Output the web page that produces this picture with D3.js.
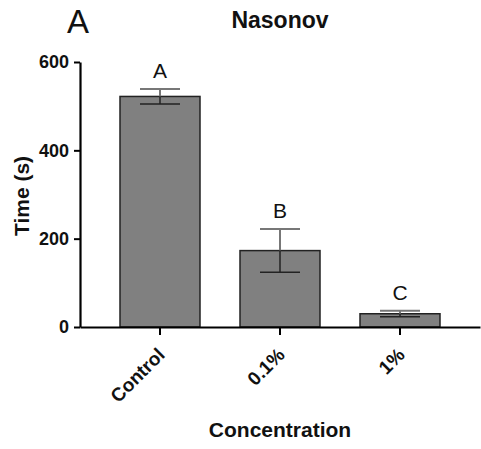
<!DOCTYPE html>
<html>
<head>
<meta charset="utf-8">
<script src="https://cdn.jsdelivr.net/npm/d3@7"></script>
<style>
  html, body { margin: 0; padding: 0; background: #fff; }
  svg { display: block; }
  text { font-family: Arial, "Liberation Sans", sans-serif; }
</style>
</head>
<body>
<svg id="chart" width="481" height="449"></svg>
<script>
const categories = ["Control", "0.1%", "1%"];
const means = [522, 173, 30];
const errors = [17, 49, 7];
const groupLetters = ["A", "B", "C"];
const yTicks = [0, 200, 400, 600];

const svg = d3.select("#chart");
const x0 = 80, x1 = 480, yTop = 62, yBottom = 327;

const x = d3.scaleBand().domain(categories).range([x0, x1]).paddingInner(1/3).paddingOuter(1/3);
const y = d3.scaleLinear().domain([0, 600]).range([yBottom, yTop]);

const data = categories.map((c, i) => ({ c, m: means[i], e: errors[i], l: groupLetters[i] }));

// bars
svg.selectAll("rect.bar").data(data).enter().append("rect")
  .attr("class", "bar")
  .attr("x", d => x(d.c))
  .attr("y", d => y(d.m))
  .attr("width", x.bandwidth())
  .attr("height", d => y(0) - y(d.m))
  .attr("fill", "#808080")
  .attr("stroke", "#222")
  .attr("stroke-width", 1.5);

// error bars
const capW = x.bandwidth() / 2;
data.forEach(d => {
  const cx = x(d.c) + x.bandwidth() / 2;
  svg.append("line").attr("x1", cx).attr("x2", cx).attr("y1", y(d.m)).attr("y2", y(d.m + d.e))
    .attr("stroke", "#777").attr("stroke-width", 2);
  svg.append("line").attr("x1", cx - capW / 2).attr("x2", cx + capW / 2).attr("y1", y(d.m + d.e)).attr("y2", y(d.m + d.e))
    .attr("stroke", "#777").attr("stroke-width", 2);
  svg.append("line").attr("x1", cx).attr("x2", cx).attr("y1", y(d.m)).attr("y2", y(d.m - d.e))
    .attr("stroke", "#222").attr("stroke-width", 1.5);
  svg.append("line").attr("x1", cx - capW / 2).attr("x2", cx + capW / 2).attr("y1", y(d.m - d.e)).attr("y2", y(d.m - d.e))
    .attr("stroke", "#222").attr("stroke-width", 1.5);
  svg.append("text").attr("x", cx).attr("y", y(d.m + d.e) - 11)
    .attr("text-anchor", "middle").attr("font-size", 21).attr("fill", "#111").text(d.l);
});

// y axis
const yAxis = d3.axisLeft(y).tickValues(yTicks).tickSize(6).tickPadding(5).tickSizeOuter(0);
const gy = svg.append("g").attr("transform", `translate(${x0},0)`).call(yAxis);
gy.select(".domain").attr("stroke", "#000").attr("stroke-width", 2.2);
gy.selectAll(".tick line").attr("stroke", "#000").attr("stroke-width", 2);
gy.selectAll(".tick text").attr("font-size", 18).attr("font-weight", "bold").attr("fill", "#111")
  .attr("font-family", "Arial, 'Liberation Sans', sans-serif");

// x axis
const xAxis = d3.axisBottom(x).tickSize(8).tickSizeOuter(0);
const gx = svg.append("g").attr("transform", `translate(0,${yBottom})`).call(xAxis);
gx.select(".domain").attr("stroke", "#000").attr("stroke-width", 2);
gx.selectAll(".tick line").attr("stroke", "#000").attr("stroke-width", 2);
gx.selectAll(".tick text")
  .attr("font-size", 19).attr("font-weight", "bold").attr("fill", "#111")
  .attr("font-family", "Arial, 'Liberation Sans', sans-serif")
  .attr("text-anchor", "end")
  .attr("dy", null)
  .attr("transform", "translate(6,29) rotate(-45)")
  .attr("y", 0).attr("x", 0);

// titles
svg.append("text").attr("x", 280).attr("y", 28).attr("text-anchor", "middle")
  .attr("font-size", 23).attr("font-weight", "bold").attr("fill", "#111").text("Nasonov");
svg.append("text").attr("x", 78).attr("y", 33).attr("text-anchor", "middle")
  .attr("font-size", 33).attr("fill", "#111").text("A");
svg.append("text").attr("x", 280).attr("y", 437).attr("text-anchor", "middle")
  .attr("font-size", 21).attr("font-weight", "bold").attr("fill", "#111").text("Concentration");
svg.append("text").attr("transform", "translate(29,196) rotate(-90)").attr("text-anchor", "middle")
  .attr("font-size", 21).attr("font-weight", "bold").attr("fill", "#111").text("Time (s)");
</script>
</body>
</html>
